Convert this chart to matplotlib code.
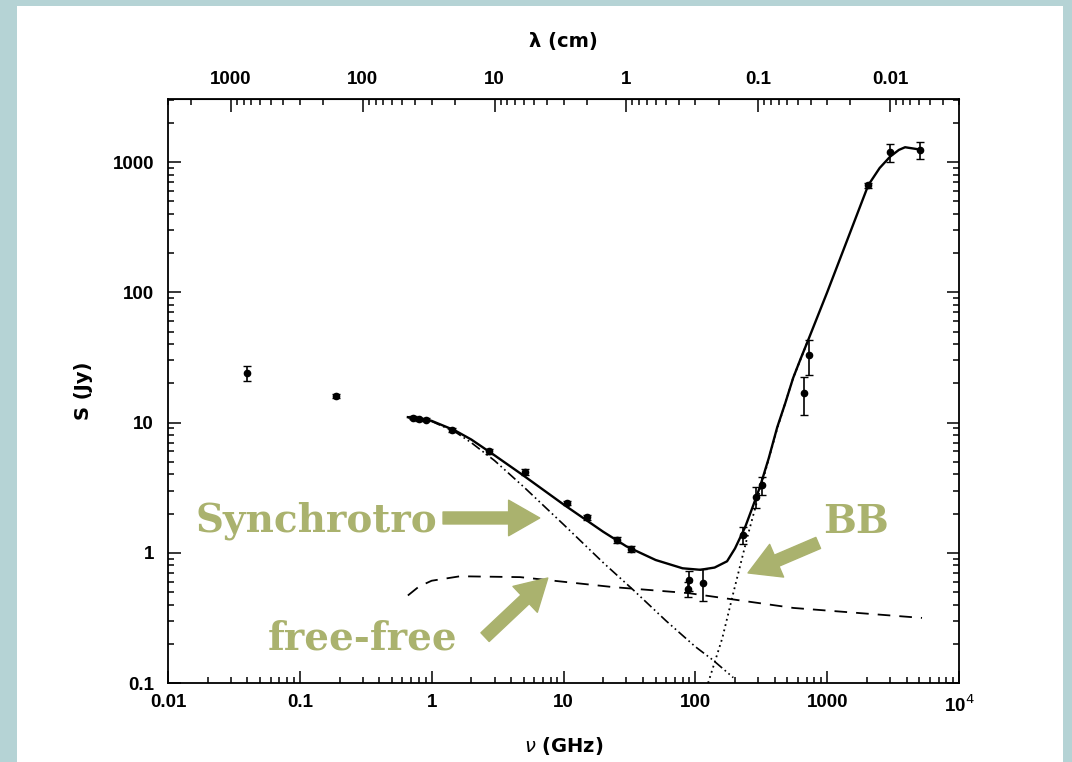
import matplotlib
matplotlib.use("Agg")
import matplotlib.pyplot as plt
from matplotlib.patches import Rectangle
from matplotlib.ticker import FixedLocator, FixedFormatter, LogLocator, NullFormatter

# measured points (GHz, Jy) with symmetric errors
nu_pts = [0.040, 0.188, 0.72, 0.80, 0.90, 1.43, 2.72, 5.1, 10.6, 15.1, 25.5, 32.6,
          88, 90, 115, 231, 290, 320, 670, 730, 2050, 3000, 5080]
s_pts = [24, 16.0, 10.9, 10.6, 10.5, 8.75, 6.0, 4.17, 2.41, 1.88, 1.25, 1.07,
         0.53, 0.62, 0.59, 1.37, 2.7, 3.3, 16.9, 33, 665, 1190, 1235]
s_err = [3.2, 0.6, 0.3, 0.3, 0.3, 0.3, 0.25, 0.2, 0.1, 0.08, 0.06, 0.05,
         0.07, 0.11, 0.16, 0.2, 0.5, 0.5, 5.5, 10, 30, 180, 180]

# model curves
nu_total = [0.66, 0.8, 1.0, 1.5, 2, 3, 5, 10, 20, 30, 50, 80, 109, 140, 174, 200,
            239, 270, 309, 360, 418, 480, 552, 630, 718, 1000, 1420, 2050, 2500,
            3000, 3500, 3900, 5000]
s_total = [11.0, 10.8, 10.3, 8.7, 7.4, 5.6, 3.9, 2.35, 1.45, 1.12, 0.88, 0.76, 0.74,
           0.77, 0.86, 1.08, 1.58, 2.2, 3.2, 5.3, 9.2, 14, 22, 31, 43, 100, 252, 665,
           900, 1100, 1240, 1300, 1250]

nu_sync = [0.66, 0.8, 1.0, 1.5, 2, 3, 5, 10, 20, 33.7, 60, 100, 136, 194]
s_sync = [10.9, 10.7, 10.2, 8.5, 7.0, 5.1, 3.2, 1.65, 0.84, 0.52, 0.3, 0.19, 0.15, 0.11]

nu_ff = [0.66, 0.8, 1.0, 1.64, 4.7, 23.8, 88.5, 554, 5240]
s_ff = [0.47, 0.55, 0.61, 0.66, 0.65, 0.545, 0.49, 0.377, 0.316]

nu_bb = [125, 160, 194, 247, 309, 418, 552, 718]
s_bb = [0.1, 0.22, 0.49, 1.3, 3.0, 9.0, 22, 43]

x_ticks = [0.01, 0.1, 1, 10, 100, 1000, 1e4]
x_labels = ["0.01", "0.1", "1", "10", "100", "1000", "10$^4$"]
y_ticks = [0.1, 1, 10, 100, 1000]
y_labels = ["0.1", "1", "10", "100", "1000"]
lam_ticks = [1000, 100, 10, 1, 0.1, 0.01]
lam_labels = ["1000", "100", "10", "1", "0.1", "0.01"]

olive = "#aab26e"
tick_font = dict(family="Liberation Sans", weight="bold", size=13.5)

fig = plt.figure(figsize=(10.72, 7.62), dpi=100)
fig.patch.set_facecolor("#b5d3d5")
fig.patches.append(Rectangle((17 / 1072, 0), 1046 / 1072, 756 / 762,
                             transform=fig.transFigure, facecolor="white",
                             edgecolor="none", zorder=-10))

ax = fig.add_axes([168 / 1072, 1 - 683 / 762, 791 / 1072, 584 / 762])
ax.set_xscale("log")
ax.set_yscale("log")
ax.set_xlim(0.01, 1e4)
ax.set_ylim(0.1, 3050)

ax.plot(nu_total, s_total, color="black", lw=1.7)
ax.plot(nu_sync, s_sync, color="black", lw=1.2, linestyle=(0, (6, 2, 1, 2, 1, 2)))
ax.plot(nu_ff, s_ff, color="black", lw=1.3, linestyle=(0, (7, 5)))
ax.plot(nu_bb, s_bb, color="black", lw=1.3, linestyle=(0, (1, 2)))
ax.errorbar(nu_pts, s_pts, yerr=s_err, fmt="o", color="black", ms=4.5,
            elinewidth=1.2, capsize=3)

ax.xaxis.set_major_locator(FixedLocator(x_ticks))
ax.xaxis.set_major_formatter(FixedFormatter(x_labels))
ax.xaxis.set_minor_locator(LogLocator(base=10, subs=range(2, 10), numticks=20))
ax.xaxis.set_minor_formatter(NullFormatter())
ax.yaxis.set_major_locator(FixedLocator(y_ticks))
ax.yaxis.set_major_formatter(FixedFormatter(y_labels))
ax.yaxis.set_minor_locator(LogLocator(base=10, subs=range(2, 10), numticks=20))
ax.yaxis.set_minor_formatter(NullFormatter())
ax.tick_params(which="both", direction="in", bottom=True, left=True, right=True,
               top=False, width=1.1)
ax.tick_params(which="major", length=9)
ax.tick_params(which="minor", length=4.5)
ax.tick_params(axis="x", which="major", pad=8)
ax.tick_params(axis="y", which="major", pad=10)
for lab in ax.get_xticklabels() + ax.get_yticklabels():
    lab.set_fontproperties(tick_font)
for sp in ax.spines.values():
    sp.set_linewidth(1.3)

top = ax.secondary_xaxis("top", functions=(lambda x: 30 / x, lambda x: 30 / x))
top.xaxis.set_major_locator(FixedLocator(lam_ticks))
top.xaxis.set_major_formatter(FixedFormatter(lam_labels))
top.xaxis.set_minor_locator(LogLocator(base=10, subs=range(2, 10), numticks=20))
top.xaxis.set_minor_formatter(NullFormatter())
top.tick_params(which="both", direction="in", width=1.1)
top.tick_params(which="major", length=9, pad=8)
top.tick_params(which="minor", length=4.5)
for lab in top.get_xticklabels():
    lab.set_fontproperties(tick_font)
top.set_xlabel("λ (cm)", fontsize=14, fontweight="bold", family="DejaVu Sans", labelpad=17)

ax.set_xlabel(r"$\nu$ (GHz)", fontsize=14, fontweight="bold", family="DejaVu Sans", labelpad=14)
ax.set_ylabel("S (Jy)", fontsize=14, fontweight="bold", family="DejaVu Sans", labelpad=14)

# annotations
ann_font = dict(family="DejaVu Serif", weight="bold", size=28, color=olive)
arrow = dict(arrowstyle="simple,head_width=0.8,head_length=0.7,tail_width=0.27",
             color=olive, mutation_scale=32, shrinkA=0, shrinkB=0)
ax.text(1.1, 1.75, "Synchrotro", ha="right", va="center", **ann_font)
ax.annotate("", xy=(6.6, 1.85), xytext=(1.22, 1.85), arrowprops=arrow)
ax.text(0.30, 0.22, "free-free", ha="center", va="center", **ann_font)
ax.annotate("", xy=(7.6, 0.64), xytext=(2.54, 0.225), arrowprops=arrow)
ax.text(1660, 1.72, "BB", ha="center", va="center", **ann_font)
ax.annotate("", xy=(251, 0.70), xytext=(855, 1.19), arrowprops=arrow)

fig.savefig("out.png", dpi=100, facecolor=fig.get_facecolor())
